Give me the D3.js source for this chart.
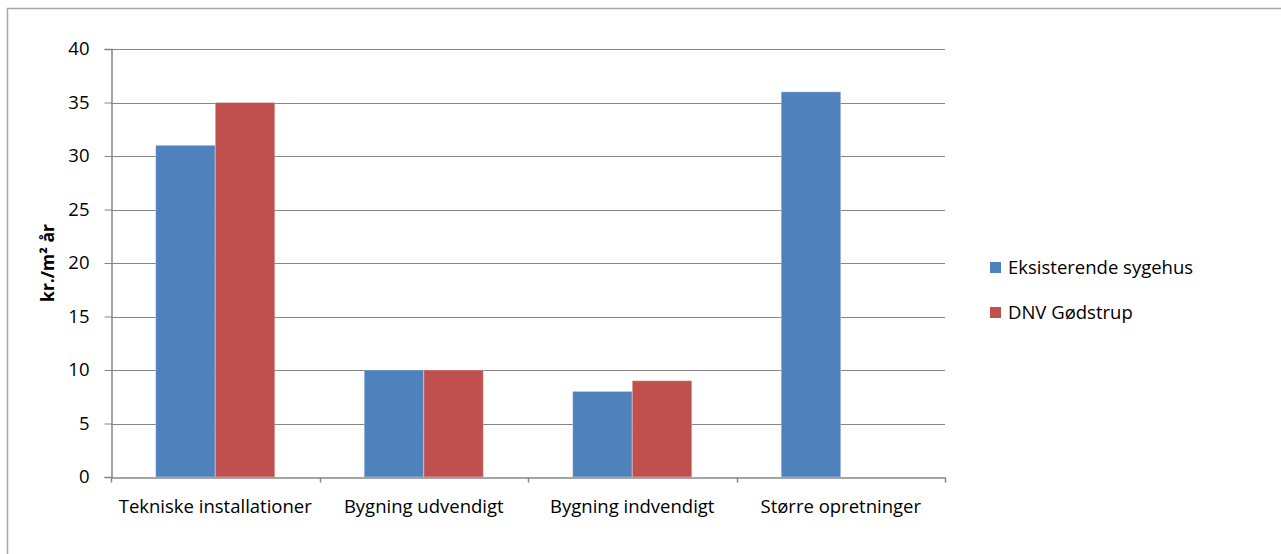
<!DOCTYPE html>
<html>
<head>
<meta charset="utf-8">
<script src="https://cdn.jsdelivr.net/npm/d3@7"></script>
<style>
  html, body { margin: 0; padding: 0; background: #fff; }
  svg { display: block; }
  svg text { font-family: "Open Sans", sans-serif; }
</style>
</head>
<body>
<svg id="chart" width="1281" height="554"></svg>
<script>
// Maintenance cost per m² per year, by category
const categories = ["Tekniske installationer", "Bygning udvendigt", "Bygning indvendigt", "Større opretninger"];
const seriesNames = ["Eksisterende sygehus", "DNV Gødstrup"];
const existingValues = [31, 10, 8, 36];
const dnvValues = [35, 10, 9, 0];
const yTicks = [0, 5, 10, 15, 20, 25, 30, 35, 40];
const colors = ["#4F81BD", "#C0504D"];

const series = [existingValues, dnvValues];
const svg = d3.select("#chart");
const FONT = 18.5;

// outer chart frame (runs off the right and bottom edge)
svg.append("rect")
  .attr("x", 7.5).attr("y", 8.5)
  .attr("width", 1290).attr("height", 560)
  .attr("fill", "none").attr("stroke", "#a6a6a6").attr("stroke-width", 1.5);

const plot = { left: 111, right: 945, top: 49, bottom: 477 };

const x0 = d3.scaleBand().domain(categories).range([plot.left, plot.right]).paddingInner(0).paddingOuter(0);
const x1 = d3.scaleBand().domain(d3.range(series.length))
  .range([0, x0.bandwidth()]).paddingInner(0).paddingOuter(0.75);
const y = d3.scaleLinear().domain([0, 40]).range([plot.bottom, plot.top]);

// gridlines
svg.append("g").selectAll("line").data(yTicks.filter(d => d > 0)).join("line")
  .attr("x1", plot.left).attr("x2", plot.right)
  .attr("y1", d => Math.round(y(d)) + 0.5).attr("y2", d => Math.round(y(d)) + 0.5)
  .attr("stroke", "#868686").attr("stroke-width", 1);

// bars
const groups = svg.append("g").selectAll("g").data(categories).join("g")
  .attr("transform", d => `translate(${x0(d)},0)`);
groups.selectAll("rect")
  .data((c, ci) => series.map((s, si) => ({ si, v: s[ci] })).filter(d => d.v > 0))
  .join("rect")
  .attr("x", d => x1(d.si))
  .attr("width", x1.bandwidth())
  .attr("y", d => y(d.v))
  .attr("height", d => y(0) - y(d.v))
  .attr("fill", d => colors[d.si])
  .attr("stroke", "rgba(255,255,255,0.35)")
  .attr("stroke-width", 1);

// y axis
const yAxis = d3.axisLeft(y).tickValues(yTicks).tickSize(7).tickPadding(15);
const yg = svg.append("g").attr("transform", `translate(${plot.left + 0.5},0)`).call(yAxis);
yg.attr("font-family", null);
yg.select(".domain").attr("stroke", "#868686").attr("stroke-width", 1.5);
yg.selectAll(".tick line").attr("stroke", "#868686");
yg.selectAll(".tick text").attr("font-size", FONT).attr("fill", "#000");

// x axis
const xAxis = d3.axisBottom(x0).tickSize(0).tickPadding(22);
const xg = svg.append("g").attr("transform", `translate(0,${plot.bottom + 0.5})`).call(xAxis);
xg.attr("font-family", null);
xg.select(".domain").attr("stroke", "#868686").attr("stroke-width", 1.5);
xg.selectAll(".tick text").attr("font-size", FONT).attr("fill", "#000");
// category separator ticks
xg.append("g").selectAll("line")
  .data(categories.map(c => x0(c)).concat([plot.right]))
  .join("line")
  .attr("x1", d => Math.round(d) + 0.5).attr("x2", d => Math.round(d) + 0.5)
  .attr("y1", 0).attr("y2", 5)
  .attr("stroke", "#868686").attr("stroke-width", 1.5);

// y axis title
svg.append("text")
  .attr("transform", `translate(54,${(plot.top + plot.bottom) / 2}) rotate(-90)`)
  .attr("text-anchor", "middle")
  .attr("font-size", 17.5).attr("font-weight", "bold").attr("fill", "#000")
  .text("kr./m² år");

// legend
const legend = svg.append("g").selectAll("g").data(seriesNames).join("g")
  .attr("transform", (d, i) => `translate(990,${262 + i * 45})`);
legend.append("rect").attr("width", 11).attr("height", 11).attr("fill", (d, i) => colors[i]);
legend.append("text").attr("x", 18).attr("y", 11.5)
  .attr("font-size", FONT).attr("fill", "#000").text(d => d);
</script>
</body>
</html>
